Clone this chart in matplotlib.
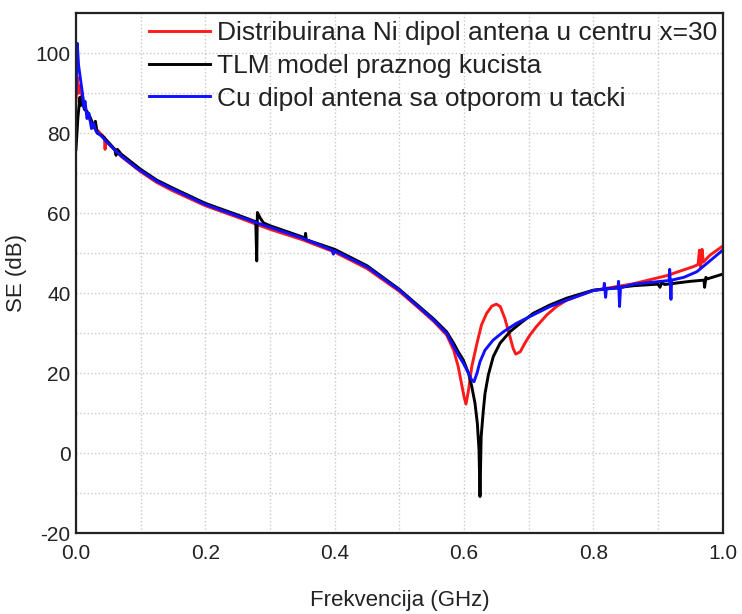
import matplotlib
matplotlib.use("Agg")
import matplotlib.pyplot as plt
from matplotlib.ticker import MultipleLocator

# frequency (GHz) / shielding effectiveness (dB)
red_f = [0.000, 0.002, 0.004, 0.007, 0.010, 0.015, 0.020, 0.025, 0.030, 0.035,
         0.040, 0.044, 0.045, 0.046, 0.050, 0.070, 0.100, 0.125, 0.150, 0.200,
         0.250, 0.300, 0.350, 0.400, 0.450, 0.500, 0.530, 0.553, 0.573, 0.584,
         0.591, 0.596, 0.600, 0.603, 0.607, 0.612, 0.620, 0.627, 0.635, 0.643,
         0.650, 0.656, 0.663, 0.671, 0.676, 0.680, 0.687, 0.694, 0.702, 0.712,
         0.728, 0.743, 0.759, 0.800, 0.862, 0.913, 0.955, 0.962, 0.964, 0.966,
         0.968, 0.970, 0.980, 1.000]
red_se = [88.0, 94.0, 90.0, 92.0, 88.0, 86.0, 84.0, 82.0, 81.0, 80.5,
          79.5, 79.0, 76.0, 78.5, 77.5, 74.2, 70.4, 67.7, 65.6, 61.9,
          59.0, 56.0, 53.4, 50.3, 46.2, 40.5, 36.3, 33.0, 29.6, 25.8,
          21.7, 17.5, 14.2, 12.3, 15.8, 21.7, 27.5, 32.1, 35.0, 36.8,
          37.3, 36.7, 33.8, 29.2, 26.2, 24.8, 25.4, 27.5, 29.6, 31.7,
          34.6, 36.7, 38.3, 40.7, 42.4, 44.4, 46.7, 47.2, 50.8, 46.5,
          51.0, 47.8, 49.5, 51.8]

tlm_f = [0.000, 0.003, 0.006, 0.008, 0.010, 0.013, 0.017, 0.022, 0.028, 0.030,
         0.033, 0.040, 0.050, 0.060, 0.062, 0.064, 0.070, 0.100, 0.125, 0.150,
         0.200, 0.250, 0.278, 0.2795, 0.2805, 0.285, 0.290, 0.300, 0.350, 0.354,
         0.355, 0.356, 0.400, 0.450, 0.500, 0.553, 0.573, 0.584, 0.591, 0.599,
         0.607, 0.612, 0.617, 0.6206, 0.6232, 0.6247, 0.6265, 0.6299, 0.6325, 0.6376,
         0.6453, 0.6556, 0.671, 0.687, 0.707, 0.733, 0.759, 0.800, 0.831, 0.862,
         0.900, 0.903, 0.906, 0.910, 0.950, 0.971, 0.972, 0.974, 0.976, 1.000]
tlm_se = [76.0, 84.0, 89.0, 87.0, 89.5, 86.0, 85.5, 84.0, 81.5, 83.0,
          80.0, 79.5, 77.8, 76.0, 74.5, 76.0, 74.8, 71.0, 68.3, 66.3,
          62.5, 59.6, 57.9, 48.1, 60.2, 58.8, 57.6, 56.9, 54.1, 53.6,
          55.0, 53.4, 51.0, 46.9, 41.0, 33.6, 30.4, 27.5, 25.4, 23.3,
          20.0, 16.7, 12.5, 7.5, 0.8, -10.8, 4.2, 10.8, 15.0, 19.6,
          24.2, 27.5, 30.4, 32.5, 35.0, 37.1, 38.8, 40.8, 41.3, 41.9,
          42.3, 41.5, 42.8, 42.2, 43.0, 43.3, 41.5, 44.0, 43.6, 44.8]

cu_f = [0.000, 0.002, 0.004, 0.007, 0.010, 0.012, 0.014, 0.017, 0.020, 0.024,
        0.027, 0.031, 0.040, 0.047, 0.068, 0.094, 0.125, 0.150, 0.200, 0.250,
        0.300, 0.350, 0.396, 0.398, 0.400, 0.450, 0.500, 0.553, 0.573, 0.584,
        0.591, 0.599, 0.607, 0.612, 0.6154, 0.620, 0.6247, 0.6325, 0.645, 0.661,
        0.681, 0.707, 0.733, 0.759, 0.800, 0.816, 0.817, 0.819, 0.820, 0.838,
        0.839, 0.8405, 0.842, 0.862, 0.887, 0.917, 0.918, 0.920, 0.921, 0.940,
        0.960, 0.972, 1.000]
cu_se = [90.0, 102.5, 97.0, 93.5, 90.0, 86.5, 88.0, 83.7, 85.0, 81.2,
         82.5, 80.5, 79.2, 77.9, 74.6, 71.3, 68.0, 66.0, 62.2, 59.3,
         56.5, 53.8, 50.8, 49.8, 50.6, 46.6, 40.8, 33.3, 30.0, 26.7,
         24.6, 22.5, 20.0, 18.3, 17.9, 20.0, 22.9, 25.8, 28.3, 30.4,
         32.5, 34.6, 36.7, 38.3, 40.7, 41.0, 42.5, 39.0, 41.1, 41.3,
         43.0, 36.7, 41.4, 42.3, 42.7, 43.2, 46.0, 38.5, 43.3, 44.0,
         45.4, 47.0, 50.8]

labels = ["Distribuirana Ni dipol antena u centru x=30",
          "TLM model praznog kucista",
          "Cu dipol antena sa otporom u tacki"]

plt.rcParams.update({"font.family": ["Liberation Sans", "DejaVu Sans"],
                     "axes.unicode_minus": False,
                     "text.color": "#222222", "axes.labelcolor": "#222222",
                     "xtick.color": "#222222", "ytick.color": "#222222"})

fig = plt.figure(figsize=(7.42, 6.14), dpi=100)
ax = fig.add_axes([0.1024, 0.1314, 0.8716, 0.8469])

ax.plot(red_f, red_se, color="#ff1a1a", lw=2.1, label=labels[0])
ax.plot(tlm_f, tlm_se, color="#000000", lw=2.1, label=labels[1])
ax.plot(cu_f, cu_se, color="#1010ff", lw=2.1, label=labels[2])

ax.set_xlim(0, 1.0)
ax.set_ylim(-20, 110)
ax.xaxis.set_major_locator(MultipleLocator(0.2))
ax.xaxis.set_minor_locator(MultipleLocator(0.1))
ax.yaxis.set_minor_locator(MultipleLocator(10))
ax.set_yticks([-20, 0, 20, 40, 60, 80, 100])
ax.xaxis.set_major_formatter(lambda v, p: f"{v:.1f}")
ax.grid(which="both", color="#c8c8c8", ls=":", lw=1.0)
ax.set_axisbelow(True)
ax.tick_params(which="both", length=0, labelsize=15)
ax.tick_params(axis="x", pad=8)
ax.tick_params(axis="y", pad=4)
for sp in ax.spines.values():
    sp.set_linewidth(1.6)
    sp.set_color("#222222")

ax.set_xlabel("Frekvencija (GHz)", fontsize=16, labelpad=19)
ax.set_ylabel("SE (dB)", fontsize=16, labelpad=6)

ax.legend(loc="upper left", bbox_to_anchor=(0.100, 1.0), frameon=False,
          fontsize=19, handlelength=2.31, handletextpad=0.27, labelspacing=0.33,
          borderpad=0.3, borderaxespad=0)

fig.savefig("out.png", dpi=100)
